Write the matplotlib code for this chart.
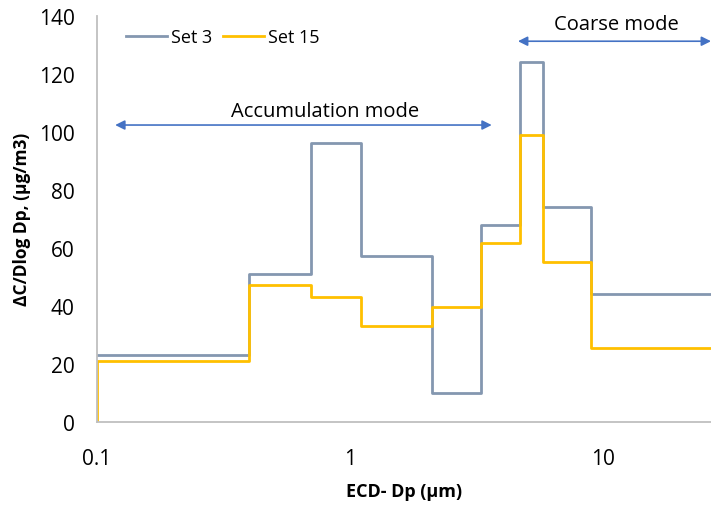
import matplotlib.pyplot as plt

# --------------------------------------------------
# Data (Andersen impactor stage cut-offs, um)
# --------------------------------------------------

edges = [0.1, 0.4, 0.7, 1.1, 2.1, 3.3, 4.7, 5.8, 9.0, 30.0]
set3 = [23, 51, 96, 57, 10, 68, 124, 74, 44]
set15 = [21, 47, 43, 33, 39.5, 61.5, 99, 55, 25.5]

GREY = "#8497B0"
YELLOW = "#FFC000"
BLUE = "#4472C4"

plt.rcParams["font.family"] = ["Open Sans", "DejaVu Sans"]

# --------------------------------------------------
# Plot
# --------------------------------------------------

fig = plt.figure(figsize=(7.11, 5.06), dpi=100)
ax = fig.add_axes([0.1364, 0.1646, 0.8636, 0.8024])

ax.plot(edges, set3 + [set3[-1]], drawstyle="steps-post",
        color=GREY, linewidth=2.0, label="Set 3")
ax.plot([edges[0]] + edges, [0] + set15 + [set15[-1]], drawstyle="steps-post",
        color=YELLOW, linewidth=2.0, label="Set 15")

ax.set_xscale("log")
ax.set_xlim(0.1, 26.7)
ax.set_ylim(0, 140)
ax.set_yticks(range(0, 141, 20))
ax.set_xticks([0.1, 1, 10])
ax.set_xticklabels(["0.1", "1", "10"])
ax.minorticks_off()

# mode arrows
ax.annotate("", xy=(0.118, 102.3), xytext=(3.63, 102.3),
            arrowprops=dict(arrowstyle="<|-|>", color=BLUE, lw=1.2,
                            mutation_scale=14, shrinkA=0, shrinkB=0))
ax.text(0.80, 107.3, "Accumulation mode", ha="center", va="center", fontsize=14.5)

ax.annotate("", xy=(4.61, 131.2), xytext=(26.7, 131.2),
            arrowprops=dict(arrowstyle="<|-|>", color=BLUE, lw=1.2,
                            mutation_scale=14, shrinkA=0, shrinkB=0),
            annotation_clip=False)
ax.text(11.3, 137.0, "Coarse mode", ha="center", va="center", fontsize=14.5)

# --------------------------------------------------
# Styling
# --------------------------------------------------

for side in ["top", "right"]:
    ax.spines[side].set_visible(False)
for side in ["left", "bottom"]:
    ax.spines[side].set_color("#BFBFBF")
    ax.spines[side].set_linewidth(1.3)

ax.tick_params(length=0, labelsize=15)
ax.tick_params(axis="y", pad=16)
ax.tick_params(axis="x", pad=19)

ax.set_xlabel("ECD- Dp (µm)", fontsize=13, fontweight="bold", labelpad=9)
ax.set_ylabel("ΔC/Dlog Dp, (µg/m3)", fontsize=12.5, fontweight="bold", labelpad=6)

ax.legend(loc="upper left", bbox_to_anchor=(0.02, 1.01), ncol=2, frameon=False,
          fontsize=13, handlelength=2.3, handletextpad=0.2, columnspacing=0.6)

fig.savefig("out.png", dpi=100)
